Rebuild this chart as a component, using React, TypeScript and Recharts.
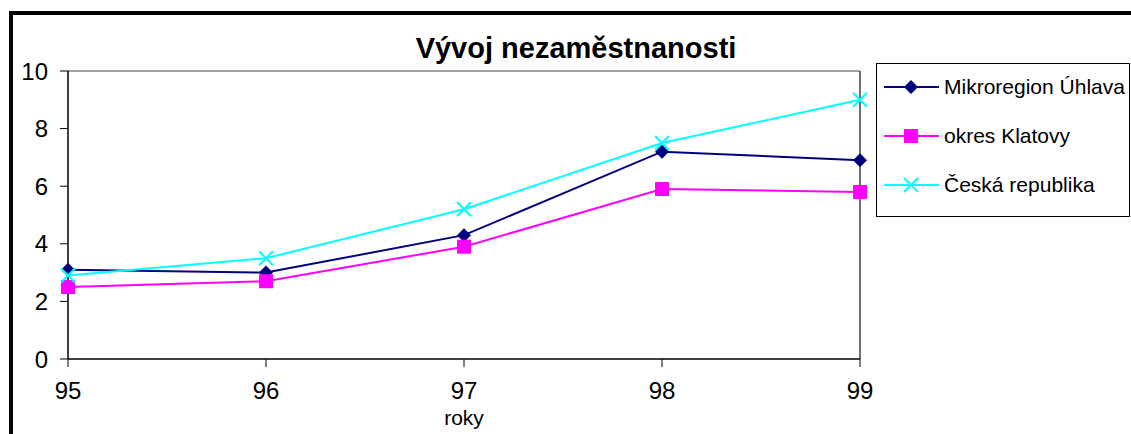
import { LineChart, Line, XAxis, YAxis, ReferenceLine } from 'recharts'

const years = ['95', '96', '97', '98', '99']
const mikroregion = [3.1, 3.0, 4.3, 7.2, 6.9]
const okres = [2.5, 2.7, 3.9, 5.9, 5.8]
const republika = [2.9, 3.5, 5.2, 7.5, 9.0]
const yTicks = [0, 2, 4, 6, 8, 10]

const FONT = '"Liberation Sans", Arial, sans-serif'
const NAVY = '#000080'
const MAGENTA = '#FF00FF'
const CYAN = '#00FFFF'

const data = years.map((rok, i) => ({
  rok,
  mikroregion: mikroregion[i],
  okres: okres[i],
  republika: republika[i],
}))

function diamondPath(cx: number, cy: number, r: number) {
  return `M${cx},${cy - r}L${cx + r},${cy}L${cx},${cy + r}L${cx - r},${cy}Z`
}

// eslint-disable-next-line @typescript-eslint/no-explicit-any
const DiamondDot = (p: any) => {
  if (p.cx == null || p.cy == null) return null
  return <path key={p.key} d={diamondPath(p.cx, p.cy, 7)} fill={NAVY} />
}

// eslint-disable-next-line @typescript-eslint/no-explicit-any
const SquareDot = (p: any) => {
  if (p.cx == null || p.cy == null) return null
  return <rect key={p.key} x={p.cx - 7} y={p.cy - 7} width={14} height={14} fill={MAGENTA} />
}

// eslint-disable-next-line @typescript-eslint/no-explicit-any
const CrossDot = (p: any) => {
  if (p.cx == null || p.cy == null) return null
  const r = 7
  return (
    <path
      key={p.key}
      d={`M${p.cx - r},${p.cy - r}L${p.cx + r},${p.cy + r}M${p.cx - r},${p.cy + r}L${p.cx + r},${p.cy - r}`}
      stroke={CYAN}
      strokeWidth={2}
      fill="none"
    />
  )
}

const legendItems = [
  { label: 'Mikroregion Úhlava', color: NAVY, kind: 'diamond' },
  { label: 'okres Klatovy', color: MAGENTA, kind: 'square' },
  { label: 'Česká republika', color: CYAN, kind: 'cross' },
]

function LegendBox() {
  return (
    <div
      style={{
        position: 'absolute',
        left: 876,
        top: 63,
        width: 254,
        height: 154,
        border: '1px solid #000',
        background: '#fff',
        boxSizing: 'border-box',
      }}
    >
      {legendItems.map((it, i) => {
        const cy = 23 + i * 49
        return (
          <div key={it.label} style={{ position: 'absolute', left: 0, top: cy - 14, height: 28, width: 252 }}>
            <svg width={66} height={28} style={{ position: 'absolute', left: 0, top: 0 }}>
              <line x1={7} x2={62} y1={14} y2={14} stroke={it.color} strokeWidth={2} />
              {it.kind === 'diamond' && <path d={diamondPath(34, 14, 7)} fill={it.color} />}
              {it.kind === 'square' && <rect x={27} y={7} width={14} height={14} fill={it.color} />}
              {it.kind === 'cross' && (
                <path d="M27,7L41,21M27,21L41,7" stroke={it.color} strokeWidth={2} fill="none" />
              )}
            </svg>
            <span
              style={{
                position: 'absolute',
                left: 67,
                top: 1,
                fontFamily: FONT,
                fontSize: 21,
                lineHeight: '26px',
                color: '#000',
                whiteSpace: 'nowrap',
              }}
            >
              {it.label}
            </span>
          </div>
        )
      })}
    </div>
  )
}

export default function App() {
  return (
    <div
      style={{
        position: 'fixed',
        left: 0,
        top: 0,
        width: 1131,
        height: 434,
        overflow: 'hidden',
        background: '#fff',
      }}
    >
      <div
        style={{
          position: 'absolute',
          left: 9,
          top: 11,
          width: 1300,
          height: 600,
          border: '4px solid #000',
        }}
      />
      <div
        style={{
          position: 'absolute',
          left: 0,
          top: 31,
          width: 1152,
          textAlign: 'center',
          fontFamily: FONT,
          fontWeight: 700,
          fontSize: 29,
          lineHeight: '34px',
          color: '#000',
        }}
      >
        Vývoj nezaměstnanosti
      </div>
      <div style={{ position: 'absolute', left: 0, top: 0 }}>
        <LineChart width={1131} height={434} data={data} margin={{ top: 71, right: 271, bottom: 0, left: 0 }}>
          <XAxis
            dataKey="rok"
            height={75}
            tickSize={8}
            tickMargin={15}
            tick={{ fontSize: 24, fill: '#000', fontFamily: FONT }}
            axisLine={{ stroke: '#000', strokeWidth: 1.5 }}
            tickLine={{ stroke: '#000' }}
            label={{ value: 'roky', position: 'insideBottom', offset: 9, fontSize: 21, fill: '#000', fontFamily: FONT }}
          />
          <YAxis
            domain={[0, 10]}
            ticks={yTicks}
            width={68}
            tickSize={8}
            tickMargin={12}
            tick={{ fontSize: 24, fill: '#000', fontFamily: FONT }}
            axisLine={{ stroke: '#000', strokeWidth: 1.5 }}
            tickLine={{ stroke: '#000' }}
            interval={0}
          />
          <ReferenceLine y={10} stroke="#808080" strokeWidth={1.5} />
          <ReferenceLine x="99" stroke="#404040" strokeWidth={1.5} />
          <Line
            dataKey="mikroregion"
            stroke={NAVY}
            strokeWidth={2}
            dot={DiamondDot}
            activeDot={false}
            isAnimationActive={false}
          />
          <Line
            dataKey="okres"
            stroke={MAGENTA}
            strokeWidth={2}
            dot={SquareDot}
            activeDot={false}
            isAnimationActive={false}
          />
          <Line
            dataKey="republika"
            stroke={CYAN}
            strokeWidth={2}
            dot={CrossDot}
            activeDot={false}
            isAnimationActive={false}
          />
        </LineChart>
      </div>
      <LegendBox />
    </div>
  )
}
